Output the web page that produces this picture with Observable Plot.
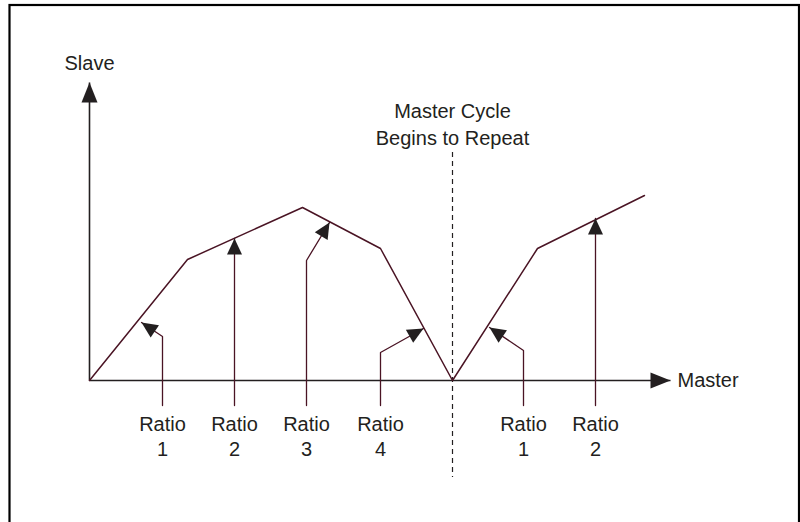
<!DOCTYPE html>
<html>
<head>
<meta charset="utf-8">
<script src="https://cdn.jsdelivr.net/npm/d3@7"></script>
<script src="https://cdn.jsdelivr.net/npm/@observablehq/plot@0.6"></script>
<style>
  html, body { margin: 0; padding: 0; background: #fff; }
  #chart svg { display: block; }
</style>
</head>
<body>
<div id="chart"></div>
<script>
// Master / Slave profile (units: distance along the axes from the origin)
const masterX = [0, 98, 213, 291, 363, 448, 555];
const slaveY  = [0, 121, 173, 132, 0, 132, 185];

// Ratio callouts
const ratioLabels = ["Ratio\n1", "Ratio\n2", "Ratio\n3", "Ratio\n4", "Ratio\n1", "Ratio\n2"];
const calloutX    = [73, 145, 217, 291, 434, 506];
const bendY       = [44, 142, 120, 28, 30, 162];
const tipX        = [52, 145, 240, 334, 400, 506];
const tipY        = [58, 142, 158, 52, 53, 162];
const calloutBottom = -25;
const labelY = -55;

// Axes
const axisEnds = [{x1: 0, y1: 0, x2: 581, y2: 0, label: "Master"}, {x1: 0, y1: 0, x2: 0, y2: 298, label: "Slave"}];

// Master cycle repeat marker
const repeatX = 363;
const repeatY = [228, -97];
const repeatLabel = "Master Cycle\nBegins to Repeat";

const profile = masterX.map((x, i) => ({x, y: slaveY[i]}));
const callouts = ratioLabels.map((label, i) => ({
  label, x: calloutX[i], bend: bendY[i], tx: tipX[i], ty: tipY[i],
  angle: Math.atan2(tipX[i] - calloutX[i], tipY[i] - bendY[i]) * 180 / Math.PI
}));
const calloutPaths = callouts.flatMap((c, i) => [
  {id: i, x: c.x, y: calloutBottom},
  {id: i, x: c.x, y: c.bend},
  {id: i, x: c.tx, y: c.ty}
]);

function head(w, h) {
  return {draw(ctx) { ctx.moveTo(0, 0); ctx.lineTo(w / 2, h); ctx.lineTo(-w / 2, h); ctx.closePath(); }};
}

const ink = "#231f20";
const maroon = "#4a1424";
const font = "'Liberation Sans', Arial, Helvetica, sans-serif";

const chart = Plot.plot({
  width: 800,
  height: 522,
  margin: 0,
  x: {domain: [-89, 711], axis: null},
  y: {domain: [-142, 380], axis: null},
  style: {fontFamily: font, background: "#fff", overflow: "hidden"},
  marks: [
    Plot.frame({stroke: "#000", strokeWidth: 2.2, insetLeft: 9, insetTop: 4.5, insetRight: 1.5, insetBottom: -10}),
    // dashed repeat line
    Plot.ruleX([repeatX], {y1: repeatY[0], y2: repeatY[1], stroke: ink, strokeWidth: 1.2, strokeDasharray: "5,4"}),
    Plot.text([repeatLabel], {x: repeatX, y: 258, text: d => d, fontSize: 20, fill: ink, lineHeight: 1.35, lineAnchor: "middle"}),
    // axes
    Plot.link(axisEnds, {x1: "x1", y1: "y1", x2: "x2", y2: "y2", stroke: ink, strokeWidth: 1.6}),
    Plot.dot(axisEnds, {x: "x2", y: "y2", rotate: d => d.y2 === 0 ? 90 : 0, symbol: head(16, 20), fill: ink, stroke: "none"}),
    Plot.text([axisEnds[0]], {x: d => d.x2 + 7, y: 0, text: "label", textAnchor: "start", fontSize: 20, fill: ink}),
    Plot.text([axisEnds[1]], {x: 0, y: 317, text: "label", fontSize: 20, fill: ink}),
    // profile
    Plot.line(profile, {x: "x", y: "y", stroke: maroon, strokeWidth: 1.5}),
    // callouts
    Plot.line(calloutPaths, {x: "x", y: "y", z: "id", stroke: maroon, strokeWidth: 1.3}),
    Plot.dot(callouts, {x: "tx", y: "ty", rotate: "angle", symbol: head(15, 16), fill: ink, stroke: "none"}),
    Plot.text(callouts, {x: "x", y: labelY, text: "label", fontSize: 20, fill: ink, lineHeight: 1.25, lineAnchor: "middle"})
  ]
});
document.getElementById("chart").append(chart);
</script>
</body>
</html>
